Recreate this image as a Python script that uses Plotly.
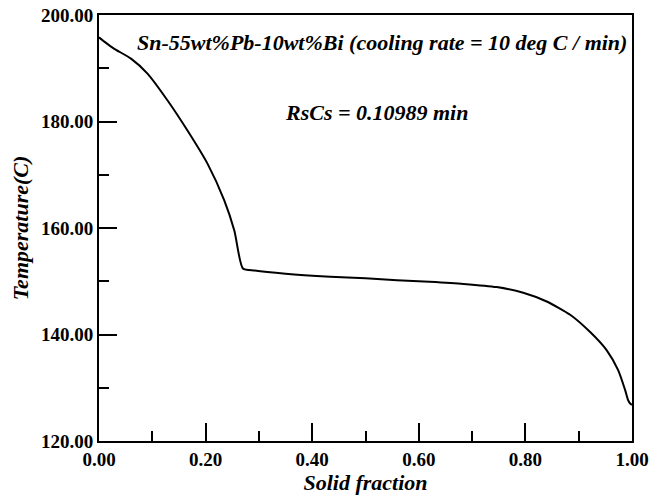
import plotly.graph_objects as go

solid_fraction = [0.0, 0.01, 0.028, 0.06, 0.091, 0.129, 0.166, 0.204, 0.235, 0.254, 0.270,
                  0.292, 0.35, 0.434, 0.50, 0.559, 0.62, 0.684, 0.746, 0.796, 0.840, 0.884,
                  0.921, 0.952, 0.974, 0.987, 0.993, 0.997, 1.0]
temperature = [195.8, 195.0, 193.7, 191.8, 189.0, 183.9, 178.3, 172.0, 165.2, 159.5, 152.4,
               152.0, 151.4, 150.85, 150.55, 150.2, 149.9, 149.5, 148.9, 147.85, 146.2, 143.7,
               140.5, 137.1, 133.3, 129.6, 127.6, 127.0, 126.8]

x_ticks = [0.0, 0.2, 0.4, 0.6, 0.8, 1.0]
x_tick_labels = ["0.00", "0.20", "0.40", "0.60", "0.80", "1.00"]
y_ticks = [120, 140, 160, 180, 200]
y_tick_labels = ["120.00", "140.00", "160.00", "180.00", "200.00"]

title_text = "Sn-55wt%Pb-10wt%Bi (cooling rate = 10 deg C / min)"
rscs_text = "RsCs = 0.10989 min"

font_family = "Liberation Serif"

fig = go.Figure()
fig.add_trace(go.Scatter(x=solid_fraction, y=temperature, mode="lines",
                         line=dict(color="black", width=2, shape="spline", smoothing=0.6),
                         showlegend=False, hoverinfo="skip"))

axis_common = dict(showgrid=False, zeroline=False, showline=True, linecolor="black", linewidth=2,
                   mirror=True, ticks="inside", tickcolor="black", tickwidth=2, ticklen=18,
                   automargin=False,
                   tickfont=dict(family=font_family, size=19, color="black", weight="bold"))

fig.update_xaxes(range=[0, 1], tickvals=x_ticks, ticktext=x_tick_labels,
                 minor=dict(dtick=0.1, tick0=0, ticks="inside", ticklen=10, tickwidth=2, tickcolor="black"),
                 title=dict(text="<b><i>Solid fraction</i></b>", font=dict(family=font_family, size=22, color="black"),
                            standoff=6),
                 **axis_common)
fig.update_yaxes(range=[120, 200], tickvals=y_ticks, ticktext=y_tick_labels,
                 minor=dict(dtick=10, tick0=120, ticks="inside", ticklen=10, tickwidth=2, tickcolor="black"),
                 title=dict(text="<b><i>Temperature(C)</i></b>", font=dict(family=font_family, size=22, color="black"),
                            standoff=6),
                 **axis_common)

fig.add_annotation(x=0.995, y=194.8, xref="x", yref="y", text="<b><i>" + title_text + "</i></b>",
                   showarrow=False, xanchor="right", yanchor="middle",
                   font=dict(family=font_family, size=22, color="black"))
fig.add_annotation(x=0.345, y=181.6, xref="x", yref="y", text="<b><i>" + rscs_text + "</i></b>",
                   showarrow=False, xanchor="left", yanchor="middle",
                   font=dict(family=font_family, size=22, color="black"))

fig.update_layout(width=662, height=499, margin=dict(l=99, r=30, t=15, b=58),
                  paper_bgcolor="white", plot_bgcolor="white")

fig.write_html("out.html")
